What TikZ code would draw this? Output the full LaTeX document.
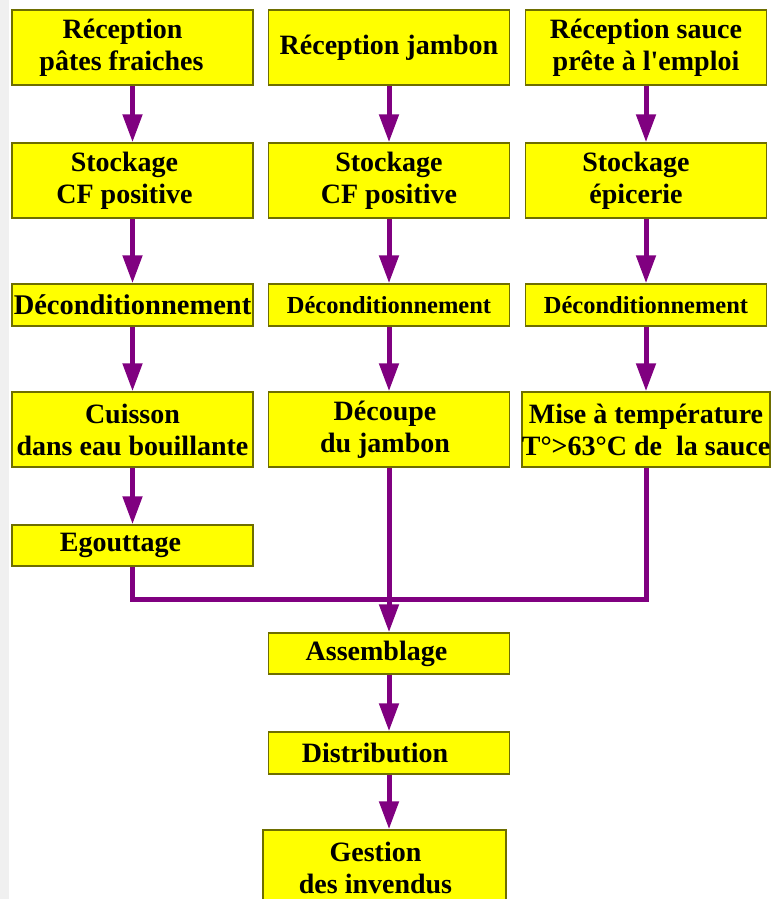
\documentclass[tikz,border=0pt]{standalone}
\usepackage{fontspec}
\setmainfont{Liberation Serif}
\usetikzlibrary{arrows.meta}
\definecolor{flowyellow}{HTML}{FFFF00}
\definecolor{flowpurple}{HTML}{800080}
\definecolor{flowedge}{HTML}{6E6E00}
% trailing space: pushes a centred line to the left
\newcommand{\padr}[1]{\hspace*{#1pt}}

\begin{document}
\begin{tikzpicture}[x=1pt, y=-1pt,
  stepbox/.style={draw=flowedge, line width=1.5pt, fill=flowyellow, minimum width=241pt,
    inner sep=0pt, align=center, font=\fontsize{28}{32}\selectfont\bfseries},
  flow/.style={draw=flowpurple, line width=5pt, -{Triangle[width=19pt,length=28pt]}},
  link/.style={draw=flowpurple, line width=5pt, line join=miter}]

\useasboundingbox (0,0) rectangle (771,899);
\fill[gray!12] (0,0) rectangle (9,899);

% Column 1: pates
\node[stepbox, minimum height=75pt] (rec1) at (132.5, 47.5) {Réception\padr{20}\\pâtes fraiches\padr{22}};
\node[stepbox, minimum height=75pt] (sto1) at (132.5,180.5) {Stockage\padr{16}\\CF positive\padr{16}};
\node[stepbox, minimum height=42pt, font=\fontsize{28.5}{32}\selectfont\bfseries] (dec1) at (132.5,305) {Déconditionnement};
\node[stepbox, minimum height=75pt] (cui)  at (132.5,429.5) {Cuisson\\dans eau bouillante};
\node[stepbox, minimum height=41pt] (ego)  at (132.5,545.5) {Egouttage\padr{24}};

% Column 2: jambon
\node[stepbox, minimum height=75pt] (rec2) at (389, 47.5) {Réception jambon};
\node[stepbox, minimum height=75pt] (sto2) at (389,180.5) {Stockage\\CF positive};
\node[stepbox, minimum height=42pt, font=\fontsize{24.5}{30}\selectfont\bfseries] (dec2) at (389,305) {Déconditionnement};
\node[stepbox, minimum height=75pt] (dcp)  at (389,429.5) {Découpe\padr{8}\\du jambon\padr{8}};

% Column 3: sauce
\node[stepbox, minimum height=75pt] (rec3) at (646, 47.5) {Réception sauce\\prête à l\textquotesingle emploi};
\node[stepbox, minimum height=75pt] (sto3) at (646,180.5) {Stockage\padr{20}\\épicerie\padr{20}};
\node[stepbox, minimum height=42pt, font=\fontsize{24.5}{30}\selectfont\bfseries] (dec3) at (646,305) {Déconditionnement};
\node[stepbox, minimum height=75pt] (mise) at (646,429.5) {Mise à température\\T°>63°C de\ \ la sauce};

% Tronc commun
\node[stepbox, minimum height=41pt] (ass)  at (389,653.5) {Assemblage\padr{25}};
\node[stepbox, minimum height=42pt] (dist) at (389,753) {Distribution\padr{28}};
\node[stepbox, minimum height=75pt, minimum width=243pt] (gest) at (384.5,867.5) {Gestion\padr{18}\\des invendus\padr{18}};

% Fleches
\foreach \a/\b in {rec1/sto1, sto1/dec1, dec1/cui, cui/ego,
                   rec2/sto2, sto2/dec2, dec2/dcp,
                   rec3/sto3, sto3/dec3, dec3/mise,
                   dcp/ass, ass/dist}
  \draw[flow] (\a) -- (\b);
\draw[flow] (dist.south) -- (dist.south |- gest.north);

% Jonction
\coordinate (join) at (dcp.south |- 0,599);
\draw[link] (ego.south) |- (join) -| (mise.south);

\end{tikzpicture}
\end{document}
